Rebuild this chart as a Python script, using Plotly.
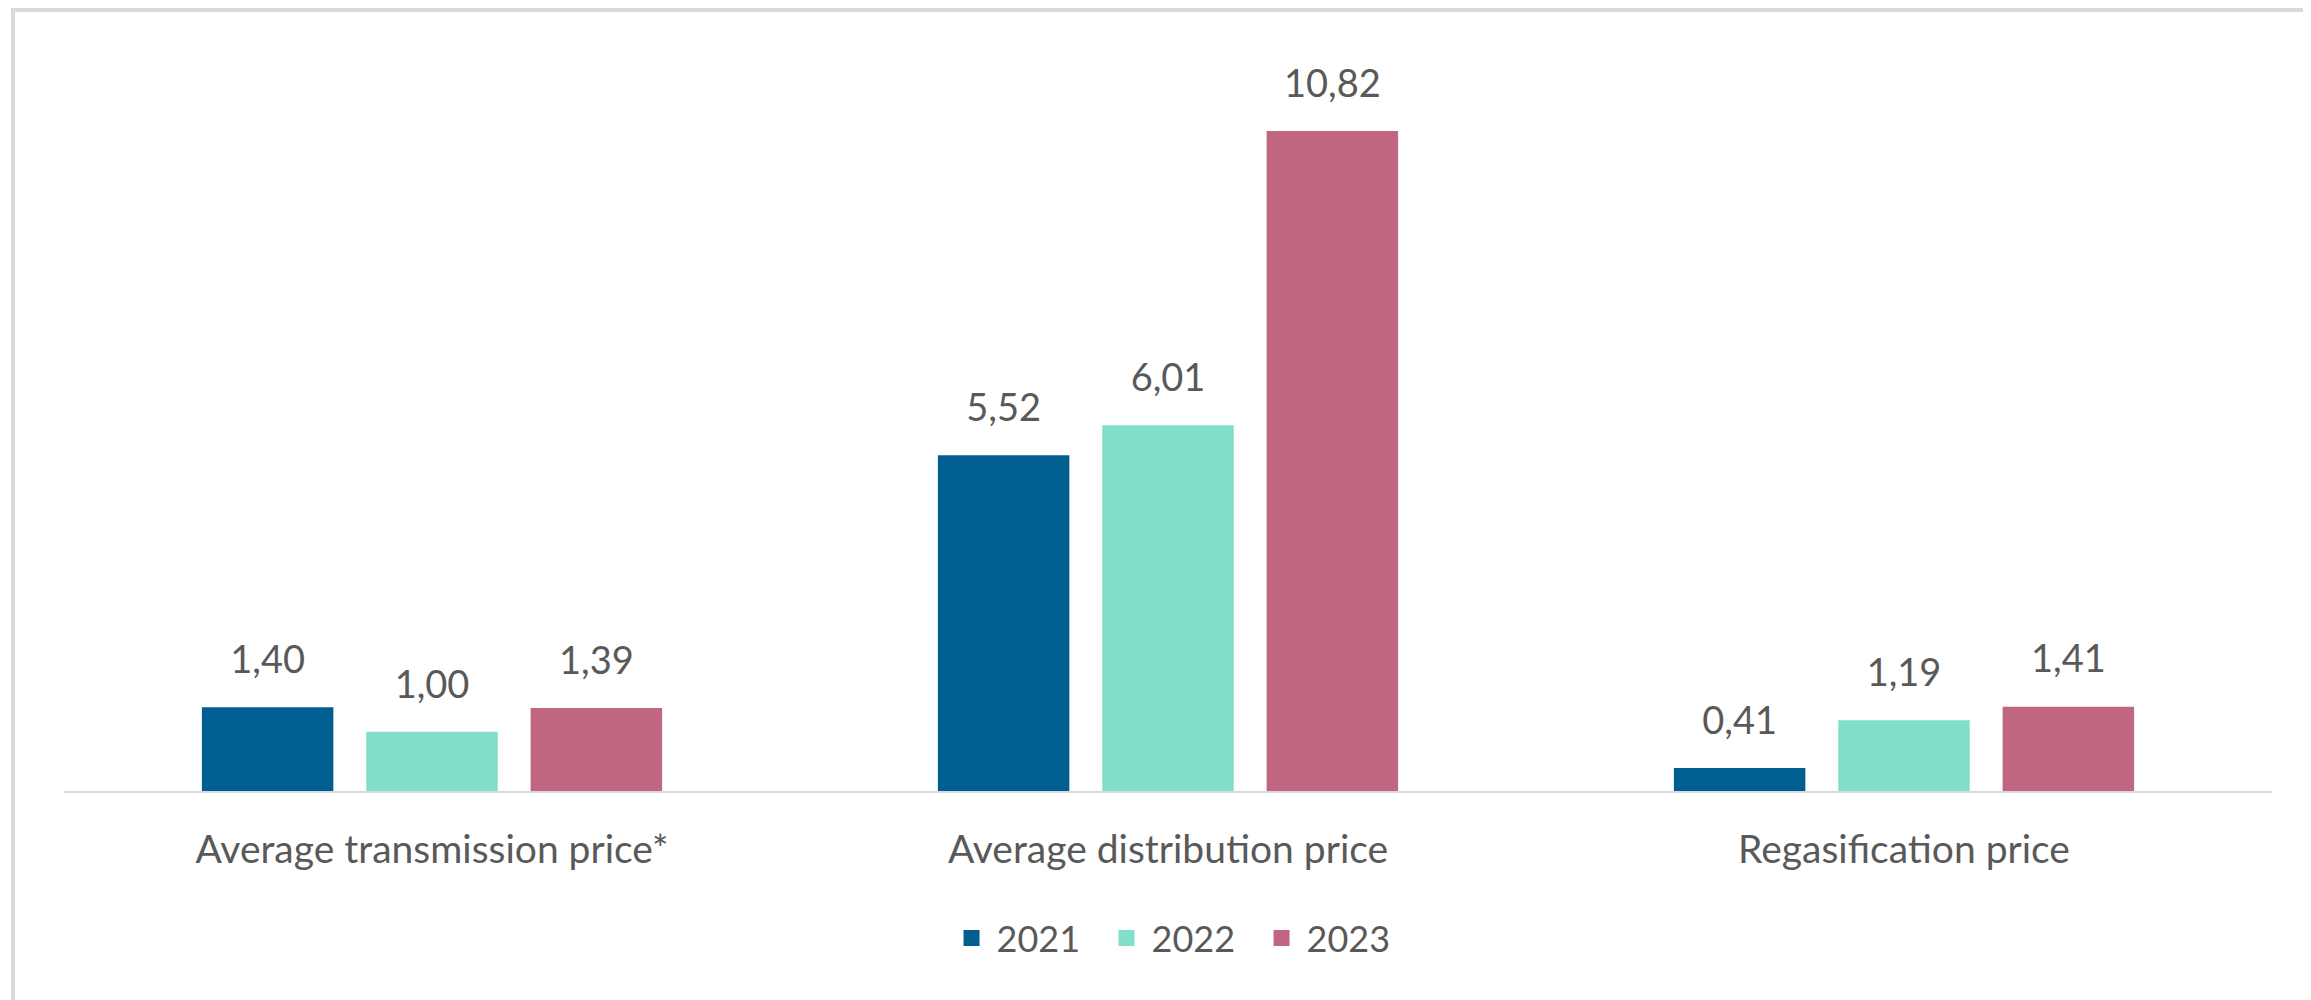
import plotly.graph_objects as go

categories = ["Average transmission price*", "Average distribution price", "Regasification price"]
years = ["2021", "2022", "2023"]
values_2021 = [1.40, 5.52, 0.41]
values_2022 = [1.00, 6.01, 1.19]
values_2023 = [1.39, 10.82, 1.41]
series = [values_2021, values_2022, values_2023]
colors = ["#005e91", "#80dfc8", "#c16681"]

FONT = "Lato, 'Open Sans', 'DejaVu Sans', sans-serif"
TXT = "#595959"

fig = go.Figure()
for yr, vals, col in zip(years, series, colors):
    fig.add_trace(go.Bar(
        x=categories, y=vals, name=yr, offsetgroup=yr,
        marker=dict(color=col, line=dict(width=0)),
        showlegend=False, hoverinfo="skip",
    ))
for yr, vals, col in zip(years, series, colors):
    fig.add_trace(go.Scatter(
        x=categories, y=vals, offsetgroup=yr, mode="markers+text",
        text=[f"{v:.2f}".replace(".", ",") for v in vals],
        textposition="top center",
        textfont=dict(family=FONT, size=38, color=TXT),
        marker=dict(size=38, color="rgba(0,0,0,0)"),
        showlegend=False, hoverinfo="skip", cliponaxis=False,
    ))
for yr, col in zip(years, colors):
    fig.add_trace(go.Scatter(
        x=[None], y=[None], offsetgroup=yr, mode="markers", name=yr,
        marker=dict(symbol="square", size=16, color=col),
    ))

fig.update_layout(
    width=2311, height=1000,
    margin=dict(l=56, r=47, t=33, b=215),
    paper_bgcolor="white", plot_bgcolor="white",
    barmode="group", bargap=0.33, bargroupgap=0.2,
    scattermode="group", scattergap=0.33,
    font=dict(family=FONT, size=38, color=TXT),
    showlegend=True,
    legend=dict(orientation="h", x=0.505, xanchor="center", y=-0.193, yanchor="middle",
                font=dict(family=FONT, size=36, color=TXT), itemsizing="trace",
                itemwidth=40, entrywidth=100, tracegroupgap=0),
    xaxis=dict(showgrid=False, zeroline=False, showline=False, ticks="",
               tickfont=dict(family=FONT, size=39, color=TXT), ticklabelstandoff=30),
    yaxis=dict(range=[0, 12.29], visible=False, showgrid=False, zeroline=False),
    shapes=[
        dict(type="line", xref="paper", yref="y", x0=0, x1=1, y0=0, y1=0,
             line=dict(color="#d9d9d9", width=4), layer="above"),
        dict(type="rect", xref="paper", yref="paper", x0=-0.0231, x1=1.03, y0=-0.35, y1=1.0412,
             line=dict(color="#d9d9d9", width=4), fillcolor="rgba(0,0,0,0)", layer="below"),
    ],
)

fig.write_html("out.html")
